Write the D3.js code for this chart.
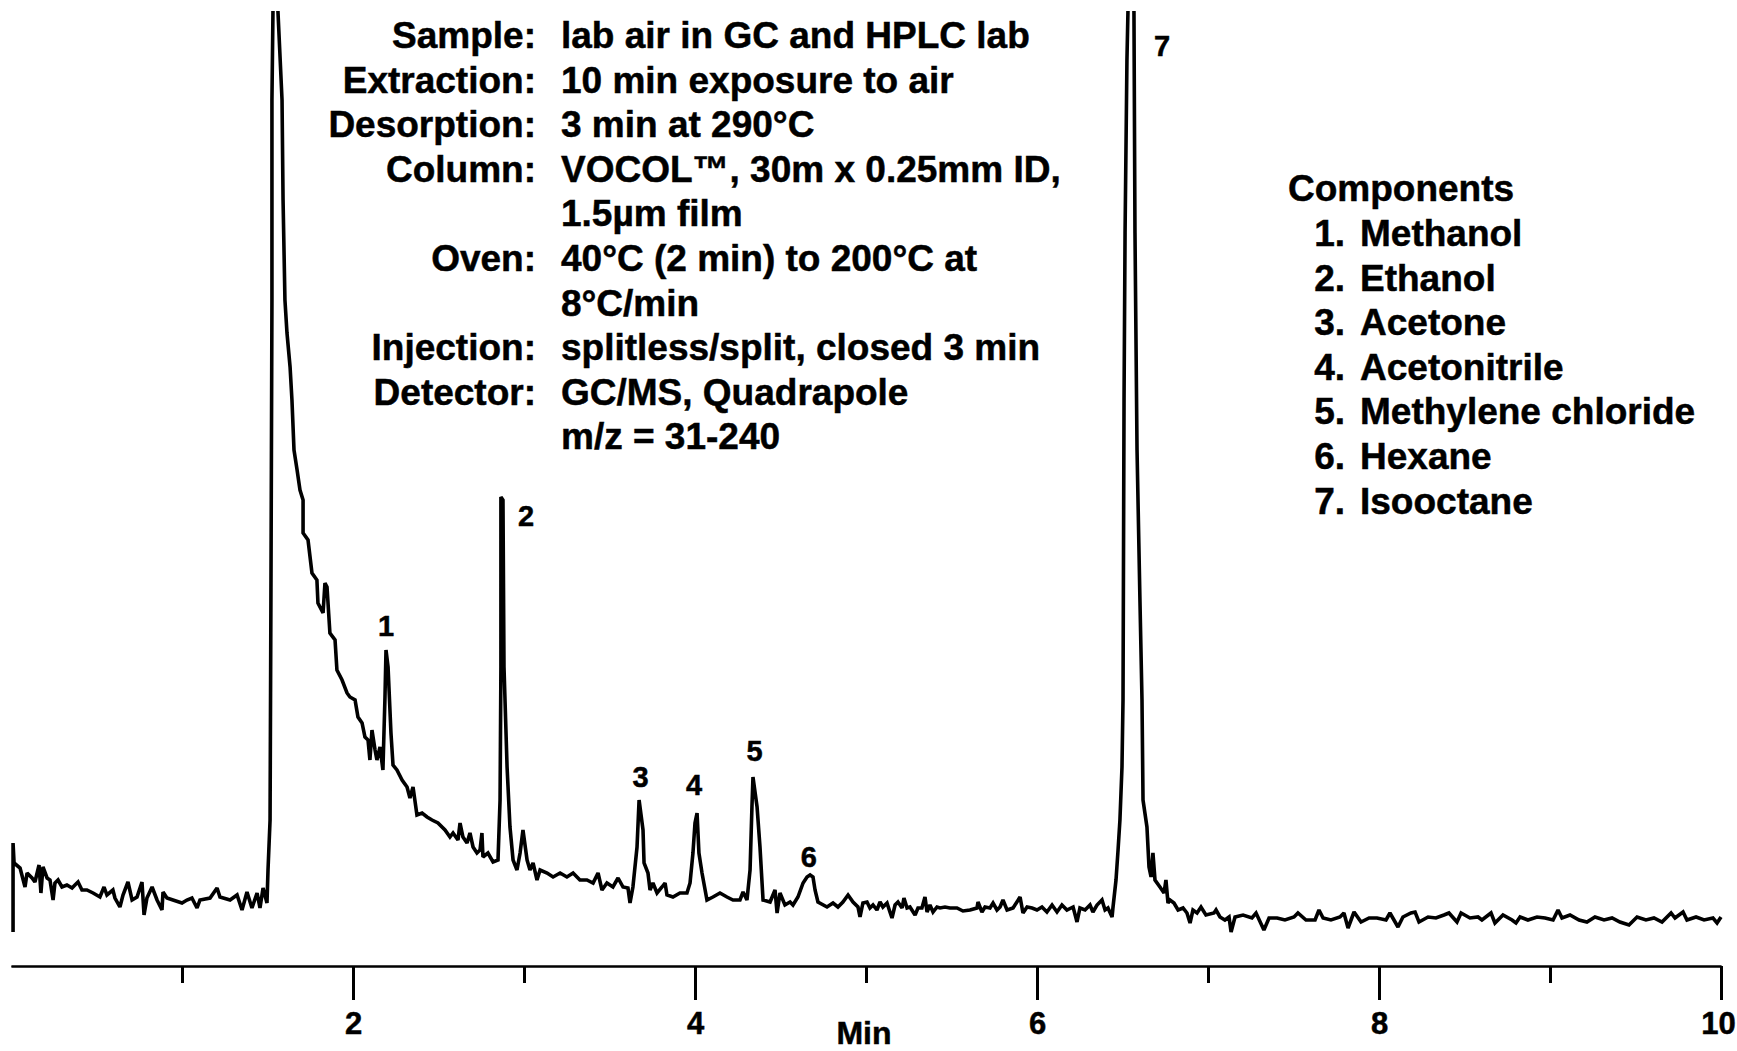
<!DOCTYPE html>
<html>
<head>
<meta charset="utf-8">
<script src="https://cdn.jsdelivr.net/npm/d3@7/dist/d3.min.js"></script>
<style>
  html, body { margin: 0; padding: 0; background: #fff; }
  svg { display: block; }
  text { font-family: "Liberation Sans", Arial, Helvetica, sans-serif; font-weight: bold; fill: #000; stroke: #000; stroke-width: 0.5px; }
</style>
</head>
<body>
<svg id="chart" width="1737" height="1051"></svg>
<script>
// Total ion chromatogram: [retention time (min), detector signal (arbitrary units)]
const trace = [
  [0.012,1.8],[0.012,10.7],[0.018,8.7],[0.053,8.2],[0.082,6.3],[0.094,7.7],[0.123,7.2],[0.140,6.8],
  [0.164,8.5],[0.175,5.7],[0.187,8.3],[0.211,7.2],[0.228,7.0],[0.246,5.0],[0.257,6.7],[0.275,7.0],
  [0.298,6.3],[0.327,6.5],[0.357,6.2],[0.374,6.5],[0.392,6.8],[0.415,6.0],[0.444,6.0],[0.480,5.7],
  [0.520,5.3],[0.544,6.3],[0.561,5.5],[0.596,6.0],[0.608,5.2],[0.637,4.3],[0.655,5.5],[0.684,6.8],
  [0.708,5.0],[0.737,5.3],[0.766,6.8],[0.778,3.5],[0.795,5.2],[0.825,6.3],[0.854,5.0],[0.883,4.0],
  [0.889,5.8],[0.912,5.2],[0.947,5.0],[1.000,4.7],[1.029,5.0],[1.058,5.2],[1.088,4.2],[1.105,5.0],
  [1.164,5.2],[1.205,6.2],[1.222,5.3],[1.281,5.0],[1.322,5.5],[1.351,4.0],[1.380,5.8],[1.409,4.2],
  [1.439,5.7],[1.456,4.2],[1.474,6.2],[1.497,4.7],
  // solvent front
  [1.503,8.0],[1.515,13.0],[1.520,35.0],[1.526,65.0],[1.526,85.0],[1.532,93.9],[1.544,99.0],
  [1.561,93.9],[1.585,85.0],[1.591,75.0],[1.602,65.0],[1.614,61.7],[1.632,58.3],[1.643,55.0],
  [1.655,50.0],[1.673,48.0],[1.690,46.0],[1.708,45.0],[1.708,41.7],[1.737,41.0],[1.760,37.7],
  [1.789,37.0],[1.795,34.7],[1.825,33.7],[1.836,36.7],[1.848,36.3],[1.865,31.7],[1.895,31.0],
  [1.906,28.0],[1.936,27.0],[1.965,25.7],[1.982,25.3],[2.012,25.0],[2.029,23.3],[2.053,22.7],
  [2.070,21.3],[2.088,21.0],[2.099,19.0],[2.111,22.0],[2.129,20.0],[2.140,19.0],[2.158,20.3],
  [2.175,18.0],
  // 1. methanol
  [2.187,25.3],[2.193,30.0],[2.205,28.3],[2.222,21.7],[2.234,18.5],
  [2.257,18.0],[2.287,17.0],[2.316,16.3],[2.333,15.2],[2.351,16.3],[2.374,13.5],[2.404,13.7],
  [2.433,13.3],[2.462,13.0],[2.497,12.7],[2.538,12.0],[2.567,11.3],[2.585,11.7],[2.614,11.0],
  [2.626,12.7],[2.643,11.3],[2.667,10.7],[2.684,11.7],[2.702,10.3],[2.725,9.7],[2.743,10.0],
  [2.754,11.7],[2.760,9.3],[2.789,9.7],[2.819,8.8],[2.848,9.0],
  // 2. ethanol
  [2.860,15.0],[2.865,28.3],[2.865,45.3],[2.877,45.0],[2.883,28.3],[2.901,18.3],[2.918,12.3],
  [2.936,9.0],[2.959,8.0],[2.977,9.7],[2.994,12.0],[3.018,9.0],[3.035,8.0],[3.053,8.7],[3.076,7.0],
  [3.094,8.0],[3.135,7.7],[3.170,7.3],[3.211,7.7],[3.251,7.3],[3.287,7.7],[3.327,7.0],[3.368,7.0],
  [3.404,6.7],[3.433,7.7],[3.456,6.0],[3.485,6.7],[3.520,6.3],[3.550,7.2],[3.579,6.3],[3.608,6.2],
  [3.620,4.7],[3.637,6.3],
  // 3. acetone
  [3.661,10.3],[3.673,15.0],[3.696,12.0],[3.702,8.7],[3.725,7.7],[3.737,6.0],
  [3.754,6.7],[3.778,5.7],[3.807,6.3],[3.825,6.7],[3.836,5.5],[3.871,5.3],[3.912,5.7],[3.953,5.7],
  [3.971,6.7],
  // 4. acetonitrile
  [3.988,9.7],[4.000,12.7],[4.012,13.7],[4.023,9.7],[4.041,7.7],[4.070,5.0],[4.105,5.3],
  [4.146,5.7],[4.187,5.3],[4.222,5.0],[4.263,5.0],[4.281,5.8],[4.304,5.0],
  // 5. methylene chloride
  [4.322,8.0],[4.333,14.3],[4.339,17.3],[4.363,14.3],[4.380,10.3],[4.398,5.0],[4.439,4.8],[4.468,6.0],
  [4.480,3.7],[4.497,5.7],[4.526,4.5],[4.556,4.8],[4.573,4.5],
  // 6. hexane
  [4.602,5.3],[4.632,6.7],[4.655,7.3],[4.673,7.5],[4.690,7.3],[4.702,6.0],[4.719,4.8],[4.772,4.3],
  [4.807,4.7],[4.836,4.3],[4.865,4.8],[4.895,5.5],[4.924,4.8],[4.953,4.3],[4.965,3.3],[4.982,4.7],
  [5.006,4.8],[5.023,4.2],[5.041,4.5],[5.064,4.0],[5.082,4.8],[5.099,4.3],[5.123,4.7],[5.140,3.8],
  [5.152,3.2],[5.170,4.5],[5.187,4.8],[5.211,4.2],[5.222,5.2],[5.240,4.2],[5.257,4.3],[5.287,3.5],
  [5.304,4.2],[5.327,4.2],[5.345,5.3],[5.357,3.8],[5.374,4.5],[5.392,3.8],[5.415,4.3],[5.433,4.2],
  [5.462,4.3],[5.491,4.2],[5.532,4.2],[5.567,3.9],[5.608,4.0],[5.649,4.2],[5.655,4.8],[5.678,3.8],
  [5.696,4.3],[5.725,4.2],[5.743,4.7],[5.766,4.0],[5.784,4.3],[5.801,5.0],[5.825,4.0],[5.860,4.2],
  [5.901,5.3],[5.918,3.7],[5.942,4.3],[5.971,4.2],[6.000,4.0],[6.029,4.3],[6.058,3.8],[6.088,4.5],
  [6.117,3.8],[6.146,4.5],[6.175,4.0],[6.211,4.3],[6.234,2.8],[6.251,4.2],[6.281,4.0],[6.310,4.5],
  [6.327,3.8],[6.351,4.5],[6.380,5.0],[6.398,4.0],[6.415,4.2],[6.439,3.3],[6.444,4.2],
  // 7. isooctane
  [6.462,7.0],[6.474,10.0],[6.485,13.0],[6.497,18.3],[6.503,25.0],[6.509,55.0],[6.515,71.7],
  [6.526,89.0],[6.532,93.9],[6.550,99.0],[6.567,93.9],[6.573,71.7],[6.585,50.0],[6.602,35.0],
  [6.614,25.0],[6.620,15.0],[6.643,12.3],[6.655,8.3],[6.667,7.3],[6.678,9.7],[6.690,7.0],
  [6.719,6.3],[6.743,5.7],[6.754,7.0],[6.766,4.7],[6.778,5.0],[6.801,4.7],[6.825,4.0],[6.854,4.2],
  [6.877,3.7],[6.895,2.7],[6.912,4.0],[6.936,3.7],[6.959,4.3],[6.988,3.5],[7.035,3.7],[7.047,4.0],
  [7.070,3.3],[7.099,3.0],[7.123,3.3],[7.135,1.8],[7.158,3.3],[7.205,3.5],[7.257,3.2],[7.281,3.7],
  [7.327,2.0],[7.357,3.2],[7.404,3.2],[7.450,3.0],[7.503,3.3],[7.526,3.7],[7.573,3.0],[7.626,3.0],
  [7.649,4.0],[7.673,3.2],[7.719,3.0],[7.772,3.3],[7.795,3.7],[7.819,2.2],[7.854,3.8],[7.895,2.8],
  [7.942,3.2],[7.988,3.2],[8.041,3.0],[8.064,3.7],[8.111,2.3],[8.140,3.3],[8.187,3.7],[8.211,3.8],
  [8.234,2.8],[8.287,3.3],[8.333,3.2],[8.380,3.5],[8.409,3.7],[8.456,2.8],[8.480,3.7],[8.532,3.2],
  [8.579,3.3],[8.602,3.0],[8.655,3.7],[8.678,2.7],[8.725,3.5],[8.778,3.0],[8.801,2.7],[8.825,3.3],
  [8.871,3.0],[8.924,3.3],[8.971,3.2],[9.018,3.0],[9.047,4.0],[9.070,3.2],[9.117,3.5],[9.170,3.0],
  [9.216,2.8],[9.263,3.3],[9.316,3.0],[9.363,3.2],[9.409,2.8],[9.462,2.5],[9.509,3.3],[9.561,3.0],
  [9.608,3.2],[9.655,2.8],[9.708,3.7],[9.731,3.2],[9.778,3.8],[9.801,3.0],[9.854,3.3],[9.901,3.0],
  [9.953,3.2],[9.977,2.7],[10.000,3.3]
];

// Peak number labels: [label, time (min), signal]
const peakLabels = [
  ["1",2.193,31.4],["2",3.012,42.4],["3",3.681,16.3],["4",3.994,15.5],
  ["5",4.349,18.9],["6",4.665,8.3],["7",6.731,89.4]
];

const majorTicks = [2, 4, 6, 8, 10];
const minorTicks = [1, 3, 5, 7, 9];
const axisTitle = "Min";

// Analysis conditions
const conditionKeys = ["Sample:", "Extraction:", "Desorption:", "Column:", "", "Oven:", "", "Injection:", "Detector:", ""];
const conditionValues = [
  "lab air in GC and HPLC lab",
  "10 min exposure to air",
  "3 min at 290°C",
  "VOCOL™, 30m x 0.25mm ID,",
  "1.5µm film",
  "40°C (2 min) to 200°C at",
  "8°C/min",
  "splitless/split, closed 3 min",
  "GC/MS, Quadrapole",
  "m/z = 31-240"
];

const legendTitle = "Components";
const components = ["Methanol", "Ethanol", "Acetone", "Acetonitrile", "Methylene chloride", "Hexane", "Isooctane"];

const svg = d3.select("#chart");

const x = d3.scaleLinear().domain([0, 10]).range([11, 1721]);
const y = d3.scaleLinear().domain([0, 94]).range([950, 10]);

svg.append("defs").append("clipPath").attr("id", "plotClip")
  .append("rect").attr("x", 0).attr("y", 11).attr("width", 1737).attr("height", 950);

// chromatogram trace
const line = d3.line().x(d => x(d[0])).y(d => y(d[1]));
svg.append("path")
  .datum(trace)
  .attr("clip-path", "url(#plotClip)")
  .attr("fill", "none")
  .attr("stroke", "#000")
  .attr("stroke-width", 3.6)
  .attr("stroke-linejoin", "miter")
  .attr("stroke-miterlimit", 2)
  .attr("d", line);

// time axis
const axisY = 966;
const minorAxis = svg.append("g").attr("transform", `translate(0,${axisY})`)
  .call(d3.axisBottom(x).tickValues(minorTicks).tickSize(17).tickSizeOuter(0).tickFormat(""));
const majorAxis = svg.append("g").attr("transform", `translate(0,${axisY})`)
  .call(d3.axisBottom(x).tickValues(majorTicks).tickSize(34).tickSizeOuter(0).tickPadding(12).tickFormat(d3.format("d")));

[minorAxis, majorAxis].forEach(g => {
  g.select(".domain").attr("stroke", "#000").attr("stroke-width", 2);
  g.selectAll(".tick line").attr("stroke", "#000").attr("stroke-width", 3);
});
majorAxis.attr("font-family", null).attr("font-size", null);
majorAxis.selectAll(".tick text")
  .attr("fill", "#000")
  .style("font-size", "31px")
  .attr("dx", d => d === 10 ? -3 : 0);

svg.append("text")
  .attr("x", 864).attr("y", 1044)
  .attr("text-anchor", "middle")
  .attr("font-size", 32)
  .text(axisTitle);

// peak numbers
svg.append("g").selectAll("text")
  .data(peakLabels)
  .join("text")
  .attr("x", d => x(d[1]))
  .attr("y", d => y(d[2]))
  .attr("text-anchor", "middle")
  .attr("font-size", 29)
  .text(d => d[0]);

// conditions block
const cond = svg.append("g").attr("font-size", 37);
const lineGap = 44.6;
cond.selectAll("text.key")
  .data(conditionKeys)
  .join("text")
  .attr("class", "key")
  .attr("x", 536)
  .attr("y", (d, i) => 48 + i * lineGap)
  .attr("text-anchor", "end")
  .text(d => d);
cond.selectAll("text.val")
  .data(conditionValues)
  .join("text")
  .attr("class", "val")
  .attr("x", 561)
  .attr("y", (d, i) => 48 + i * lineGap)
  .text(d => d);

// components legend
const legend = svg.append("g").attr("font-size", 37);
legend.append("text").attr("x", 1288).attr("y", 201).text(legendTitle);
legend.selectAll("text.num")
  .data(components)
  .join("text")
  .attr("class", "num")
  .attr("x", 1345)
  .attr("y", (d, i) => 246 + i * lineGap)
  .attr("text-anchor", "end")
  .text((d, i) => `${i + 1}.`);
legend.selectAll("text.name")
  .data(components)
  .join("text")
  .attr("class", "name")
  .attr("x", 1360)
  .attr("y", (d, i) => 246 + i * lineGap)
  .text(d => d);
</script>
</body>
</html>
